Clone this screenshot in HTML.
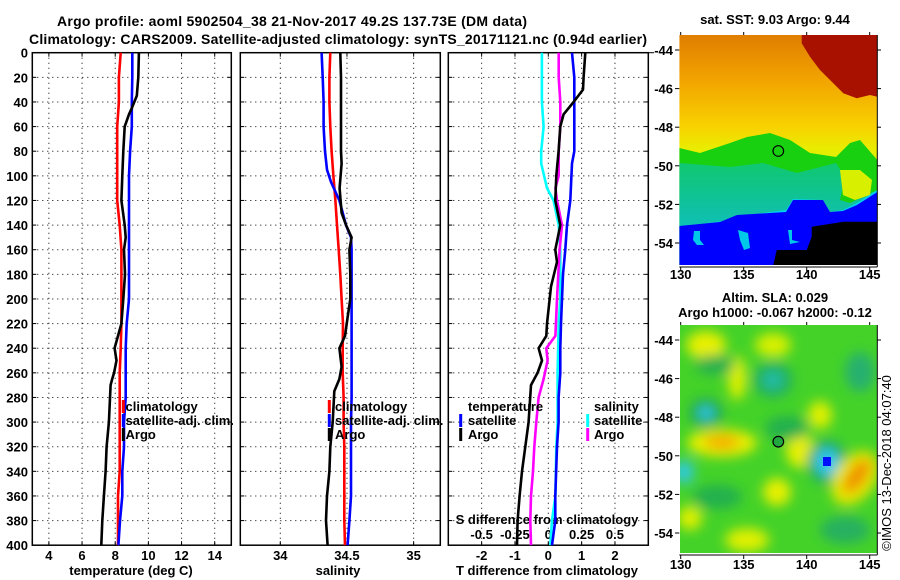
<!DOCTYPE html>
<html><head><meta charset="utf-8"><style>
html,body{margin:0;padding:0;background:#fff;}
svg{display:block;font-family:"Liberation Sans",sans-serif;}
.b{font-weight:bold;font-size:13px;}
</style></head><body>
<svg id="chart" width="900" height="580" viewBox="0 0 900 580" xmlns="http://www.w3.org/2000/svg">
<defs>
<linearGradient id="sstbg" x1="0" y1="0" x2="0" y2="1">
<stop offset="0" stop-color="#e07e00"/><stop offset="0.2" stop-color="#f2a400"/><stop offset="0.4" stop-color="#f8d200"/><stop offset="0.5" stop-color="#e8ee00"/><stop offset="0.6" stop-color="#c8f000"/>
</linearGradient>
<linearGradient id="teal" x1="0" y1="0" x2="0" y2="1">
<stop offset="0" stop-color="#10c870"/><stop offset="0.5" stop-color="#10c0a8"/><stop offset="1" stop-color="#00c8e0"/>
</linearGradient>
<filter id="blur"><feGaussianBlur stdDeviation="6"/></filter>
<clipPath id="clipA"><rect x="679.3" y="35" width="198" height="230"/></clipPath>
<clipPath id="clipB"><rect x="680" y="325" width="197" height="228"/></clipPath>
</defs>
<text x="292" y="26" text-anchor="middle" class="b" style="font-size:14px" textLength="470">Argo profile: aoml 5902504_38 21-Nov-2017 49.2S 137.73E (DM data)</text>
<text x="338" y="44" text-anchor="middle" class="b" style="font-size:14px" textLength="618">Climatology: CARS2009. Satellite-adjusted climatology: synTS_20171121.nc (0.94d earlier)</text>

<g id="profiles"></g>

<!-- SST map -->
<g>
<g clip-path="url(#clipA)">
<rect x="679.3" y="35" width="198" height="230" fill="url(#sstbg)"/>
<polygon points="801.7,35 877.3,35 877.3,96.7 870,95 856.7,98.3 843.3,93.3 833.3,83.3 820,70 810,56.7 801.7,43.3" fill="#a81000"/>
<polygon points="679.3,148 700,153 730,143 747,137 770,133 790,140 810,153 836,157 850,143 860,140 877.3,160 877.3,265 679.3,265" fill="#18d010"/>
<polygon points="679.3,163 730,167 763,163 797,173 836,163 845,177 840,200 850,203 877.3,190 877.3,265 679.3,265" fill="url(#teal)"/>
<polygon points="840,170 860,170 872,180 870,195 855,200 843,195" fill="#d8f000"/>
<polygon points="679.3,227 730,220 747,215 786,210 793,199 823,200 830,212 843,210 857,203 877.3,190 877.3,265 679.3,265" fill="#00d0f0"/>
<polygon points="679.3,226 720,222 737,215 786,212 793,200 823,200 830,212 843,211 857,205 877.3,192 877.3,265 679.3,265" fill="#0000ff"/>
<polygon points="694,231 700,231 700,240 704,245 697,245 693,240" fill="#00c8e8"/>
<polygon points="738,230 748,233 750,248 744,250 740,240" fill="#00c8e8"/>
<polygon points="788,230 792,230 792,240 800,242 790,244" fill="#00c8e8"/>
<polygon points="811.7,226.7 843.3,221.7 877.3,221.7 877.3,265 773.3,265 776.7,250 806.7,250 811.7,236.7" fill="#000"/>
</g>
<circle cx="778.3" cy="151" r="5.3" fill="none" stroke="#000" stroke-width="1.2"/>
</g>

<!-- SLA map -->
<g>
<g clip-path="url(#clipB)">
<rect x="680" y="325" width="197" height="228" fill="#44d228"/>
<g filter="url(#blur)">
<ellipse cx="706" cy="345" rx="20" ry="14" fill="#e8f000"/>
<ellipse cx="773" cy="345" rx="18" ry="12" fill="#d8f000"/>
<ellipse cx="737" cy="378" rx="9" ry="22" fill="#e0f000"/>
<ellipse cx="773" cy="380" rx="20" ry="18" fill="#22b060"/>
<ellipse cx="773" cy="380" rx="9" ry="8" fill="#20c0b0"/>
<ellipse cx="706" cy="413" rx="17" ry="15" fill="#20a850"/>
<ellipse cx="706" cy="413" rx="8" ry="7" fill="#30c8e8"/>
<ellipse cx="722" cy="443" rx="35" ry="14" fill="#e8f000"/>
<ellipse cx="722" cy="442" rx="18" ry="8" fill="#f4b000"/>
<ellipse cx="800" cy="450" rx="14" ry="18" fill="#e8f000"/>
<ellipse cx="820" cy="415" rx="12" ry="14" fill="#e0f000"/>
<ellipse cx="860" cy="372" rx="15" ry="20" fill="#28b070"/>
<ellipse cx="827" cy="462" rx="20" ry="22" fill="#20a860"/>
<ellipse cx="827" cy="462" rx="12" ry="14" fill="#30c8f0"/>
<ellipse cx="855" cy="478" rx="20" ry="30" fill="#e8e800" transform="rotate(35 855 478)"/>
<ellipse cx="857" cy="476" rx="9" ry="20" fill="#f09000" transform="rotate(35 857 476)"/>
<ellipse cx="684" cy="472" rx="10" ry="12" fill="#30c8e0"/>
<ellipse cx="777" cy="492" rx="14" ry="14" fill="#e8f000"/>
<ellipse cx="717" cy="497" rx="25" ry="12" fill="#22b050"/>
<ellipse cx="787" cy="428" rx="22" ry="12" fill="#22b050"/>
<ellipse cx="747" cy="540" rx="22" ry="12" fill="#e0f000"/>
<ellipse cx="690" cy="518" rx="12" ry="12" fill="#e0f000"/>
<ellipse cx="845" cy="530" rx="25" ry="14" fill="#28b060"/>
<ellipse cx="715" cy="365" rx="20" ry="10" fill="#28b050"/>
</g>
<rect x="823" y="457" width="8" height="9" fill="#0010ff"/>
</g>
<circle cx="778.3" cy="441.7" r="5.3" fill="#22a840" stroke="#000" stroke-width="1.2"/>
</g>

<text x="775" y="24" text-anchor="middle" class="b">sat. SST: 9.03 Argo: 9.44</text>
<text x="775" y="302" text-anchor="middle" class="b">Altim. SLA: 0.029</text>
<text x="775" y="317" text-anchor="middle" class="b">Argo h1000: -0.067 h2000: -0.12</text>
<text transform="translate(891,463) rotate(-90)" text-anchor="middle" style="font-size:13px">©IMOS 13-Dec-2018 04:07:40</text>
<g id="mapaxes"></g>
</svg>
<script>
// ---- profile data (depth in m) ----
const tempClimDepth = [0,20,40,60,80,100,120,140,160,180,200,220,240,260,280,300,320,340,360,380,400];
const tempClim = [8.33,8.22,8.22,8.12,8.12,8.12,8.12,8.27,8.37,8.37,8.37,8.37,8.33,8.27,8.27,8.27,8.27,8.27,8.17,8.17,8.17];
const tempSat = [9.03,9.03,9.0,9.0,8.9,8.83,8.83,8.83,8.83,8.83,8.83,8.69,8.63,8.63,8.63,8.53,8.53,8.43,8.43,8.29,8.19];
const tempArgoDepth = [0,20,35,45,50,60,80,100,120,140,150,160,180,200,220,230,240,250,260,265,270,300,320,340,360,380,400];
const tempArgo = [9.43,9.39,9.3,9.0,8.83,8.57,8.49,8.43,8.37,8.57,8.63,8.53,8.59,8.49,8.37,8.17,7.96,8.08,7.93,7.82,7.72,7.62,7.48,7.42,7.32,7.22,7.16];

const salClim = [34.375,34.368,34.368,34.375,34.385,34.398,34.413,34.425,34.438,34.45,34.46,34.47,34.468,34.468,34.475,34.475,34.48,34.48,34.48,34.48,34.485];
const salSatDepth = [0,20,40,60,80,95,105,120,140,150,160,280,300,360,380,400];
const salSat = [34.31,34.318,34.325,34.325,34.335,34.35,34.38,34.443,34.493,34.53,34.535,34.535,34.53,34.53,34.518,34.505];
const salArgoDepth = [0,20,80,90,110,130,140,150,160,180,200,215,230,240,255,265,275,300,320,340,360,380,400];
const salArgo = [34.45,34.455,34.455,34.46,34.445,34.46,34.493,34.535,34.518,34.525,34.525,34.505,34.485,34.443,34.46,34.443,34.405,34.393,34.375,34.368,34.35,34.343,34.355];

const dTSatDepth = [0,20,80,90,120,140,160,180,220,240,260,280,300,320,360,380,400];
const dTSat = [0.71,0.78,0.78,0.71,0.66,0.56,0.51,0.44,0.38,0.36,0.36,0.31,0.31,0.26,0.21,0.21,0.11];
const dTArgoDepth = [0,20,30,40,50,60,80,100,120,140,160,170,190,220,230,240,250,260,270,300,320,340,360,380,400];
const dTArgo = [1.11,1.06,1.04,0.76,0.46,0.36,0.31,0.24,0.21,0.36,0.21,0.26,0.08,-0.04,-0.06,-0.29,-0.19,-0.32,-0.52,-0.59,-0.69,-0.79,-0.86,-0.92,-0.94];
const dSSatDepth = [0,40,60,80,90,110,120,140,160,200,220,260,300,320,360,380,400];
const dSSat = [-0.048,-0.048,-0.035,-0.053,-0.053,-0.01,0.04,0.078,0.09,0.09,0.078,0.07,0.07,0.06,0.053,0.028,0.015];
const dSArgoDepth = [0,20,40,60,80,100,110,120,140,160,200,230,240,250,265,280,300,320,340,360,380,400];
const dSArgo = [0.078,0.078,0.09,0.09,0.078,0.078,0.053,0.065,0.103,0.085,0.065,0.053,-0.015,-0.005,-0.035,-0.073,-0.09,-0.105,-0.115,-0.13,-0.135,-0.13];

const depthTicks = [0,20,40,60,80,100,120,140,160,180,200,220,240,260,280,300,320,340,360,380,400];
const tempTicks = [4,6,8,10,12,14];
const salTicks = [34,34.5,35];
const salTickLabels = ["34","34.5","35"];
const dTTicks = [-2,-1,0,1,2];
const dSTicks = [-0.5,-0.25,0,0.25,0.5];
const dSTickLabels = ["-0.5","-0.25","0","0.25","0.5"];
const lonTicks = [130,135,140,145];
const latTicks = [-44,-46,-48,-50,-52,-54];

const NS = "http://www.w3.org/2000/svg";
const svg = document.getElementById('chart');
const prof = document.getElementById('profiles');
const Y0 = 52.7, Y1 = 545.2;
function yD(d){ return Y0 + d*(Y1-Y0)/400; }
function mk(tag, parent, attrs){
  const e = document.createElementNS(NS, tag);
  for (const k in attrs) e.setAttribute(k, attrs[k]);
  parent.appendChild(e);
  return e;
}
function txt(parent, x, y, s, anchor, name){
  const t = mk('text', parent, {x:x, y:y, 'text-anchor':anchor, class:'b'});
  t.textContent = s;
  
  
  return t;
}
const panels = [
  {x0:32.3, x1:231.3, min:3, max:15, name:'temperature-panel'},
  {x0:240.3, x1:440.3, min:33.7, max:35.2, name:'salinity-panel'},
  {x0:448.3, x1:648.3, min:-3, max:3, name:'difference-panel'}
];
function xf(p, v){ return p.x0 + (v-p.min)*(p.x1-p.x0)/(p.max-p.min); }

panels.forEach((p, i) => {
  const g = mk('g', prof, {});
  
  
  const ticks = i===0 ? tempTicks : (i===1 ? salTicks : dTTicks);
  depthTicks.forEach(d => {
    if (d===0 || d===400) return;
    const l = mk('line', g, {x1:p.x0, x2:p.x1, y1:yD(d), y2:yD(d), stroke:'#000', 'stroke-width':1, 'stroke-dasharray':'1,4'});
    
    
    mk('line', g, {x1:p.x0, x2:p.x0+4, y1:yD(d), y2:yD(d), stroke:'#000'});
    mk('line', g, {x1:p.x1-4, x2:p.x1, y1:yD(d), y2:yD(d), stroke:'#000'});
  });
  ticks.forEach((v, k) => {
    const x = xf(p, v);
    const l = mk('line', g, {x1:x, x2:x, y1:Y0, y2:Y1, stroke:'#000', 'stroke-width':1, 'stroke-dasharray':'1,4'});
    
    
    mk('line', g, {x1:x, x2:x, y1:Y0, y2:Y0+4, stroke:'#000'});
    mk('line', g, {x1:x, x2:x, y1:Y1-4, y2:Y1, stroke:'#000'});
    const lab = i===1 ? salTickLabels[k] : String(v);
    txt(g, x, 560, lab, 'middle', 'x-tick-label');
  });
  const fr = mk('rect', g, {x:p.x0, y:Y0, width:p.x1-p.x0, height:Y1-Y0, fill:'none', stroke:'#000', 'stroke-width':1.5});
  
  
});
depthTicks.forEach(d => { txt(prof, 28, yD(d)+5, String(d), 'end', 'y-tick-label'); });
mk('line', prof, {x1:648.3, x2:654, y1:Y0, y2:Y0, stroke:'#000'});

txt(prof, 131, 575, 'temperature (deg C)', 'middle', 'temperature-axis-title');
txt(prof, 338, 575, 'salinity', 'middle', 'salinity-axis-title');
txt(prof, 547, 575, 'T difference from climatology', 'middle', 'tdiff-axis-title');
txt(prof, 547, 524, 'S difference from climatology', 'middle', 'sdiff-axis-title');
dSTicks.forEach((v, k) => { txt(prof, xf(panels[2], v*4), 539, dSTickLabels[k], 'middle', 'sdiff-tick-label'); });

function series(p, depths, vals, color, name, scale){
  const pts = depths.map((d, k) => xf(p, vals[k]*scale).toFixed(1) + ',' + yD(d).toFixed(1)).join(' ');
  const e = mk('polyline', prof, {points:pts, fill:'none', stroke:color, 'stroke-width':2.6, 'stroke-linejoin':'round'});
  
  
}
series(panels[0], tempClimDepth, tempClim, '#ff0000', 'temperature-climatology-line', 1);
series(panels[0], tempClimDepth, tempSat, '#0000ff', 'temperature-satellite-line', 1);
series(panels[0], tempArgoDepth, tempArgo, '#000000', 'temperature-argo-line', 1);
series(panels[1], tempClimDepth, salClim, '#ff0000', 'salinity-climatology-line', 1);
series(panels[1], salSatDepth, salSat, '#0000ff', 'salinity-satellite-line', 1);
series(panels[1], salArgoDepth, salArgo, '#000000', 'salinity-argo-line', 1);
series(panels[2], dSSatDepth, dSSat, '#00ffff', 'sdiff-satellite-line', 4);
series(panels[2], dSArgoDepth, dSArgo, '#ff00ff', 'sdiff-argo-line', 4);
series(panels[2], dTSatDepth, dTSat, '#0000ff', 'tdiff-satellite-line', 1);
series(panels[2], dTArgoDepth, dTArgo, '#000000', 'tdiff-argo-line', 1);

function legend(bx, tx, y, color, label, name){
  const r = mk('rect', prof, {x:bx-1.5, y:y-11, width:3, height:13, fill:color});
  
  
  txt(prof, tx, y, label, 'start', name);
}
legend(123.3, 125.5, 411, '#ff0000', 'climatology', 'legend-temp-climatology');
legend(123.3, 125.5, 425, '#0000ff', 'satellite-adj. clim.', 'legend-temp-satellite');
legend(123.3, 125.5, 439, '#000000', 'Argo', 'legend-temp-argo');
legend(329.3, 335, 411, '#ff0000', 'climatology', 'legend-sal-climatology');
legend(329.3, 335, 425, '#0000ff', 'satellite-adj. clim.', 'legend-sal-satellite');
legend(329.3, 335, 439, '#000000', 'Argo', 'legend-sal-argo');
txt(prof, 468, 411, 'temperature', 'start', 'legend-temperature-heading');
legend(460.7, 468, 425, '#0000ff', 'satellite', 'legend-tdiff-satellite');
legend(460.7, 468, 439, '#000000', 'Argo', 'legend-tdiff-argo');
txt(prof, 594, 411, 'salinity', 'start', 'legend-salinity-heading');
legend(587.7, 594, 425, '#00ffff', 'satellite', 'legend-sdiff-satellite');
legend(587.7, 594, 439, '#ff00ff', 'Argo', 'legend-sdiff-argo');

// map axes
const mapAxes = document.getElementById('mapaxes');
function lonX(lon){ return 680.7 + (lon-130)*12.6; }
[{top:35, bot:265, lat44:50, lab:279, name:'sst'}, {top:325, bot:553, lat44:340, lab:569, name:'sla'}].forEach(m => {
  mk('line', mapAxes, {x1:679.3, x2:877.3, y1:m.bot+2, y2:m.bot+2, stroke:'#000'});
  mk('line', mapAxes, {x1:877.3, x2:877.3, y1:m.top, y2:m.bot+2, stroke:'#000'});
  lonTicks.forEach(lon => {
    const x = lonX(lon);
    mk('line', mapAxes, {x1:x, x2:x, y1:m.top-3, y2:m.top, stroke:'#000'});
    mk('line', mapAxes, {x1:x, x2:x, y1:m.bot+2, y2:m.bot+6, stroke:'#000'});
    txt(mapAxes, x, m.lab, String(lon), 'middle', m.name + '-lon-label');
  });
  latTicks.forEach(lat => {
    const y = m.lat44 + (-44-lat)*19.3;
    mk('line', mapAxes, {x1:675, x2:679.3, y1:y, y2:y, stroke:'#000'});
    mk('line', mapAxes, {x1:877.3, x2:881, y1:y, y2:y, stroke:'#000'});
    txt(mapAxes, 673, y+5, String(lat), 'end', m.name + '-lat-label');
  });
});
</script>
</body></html>
